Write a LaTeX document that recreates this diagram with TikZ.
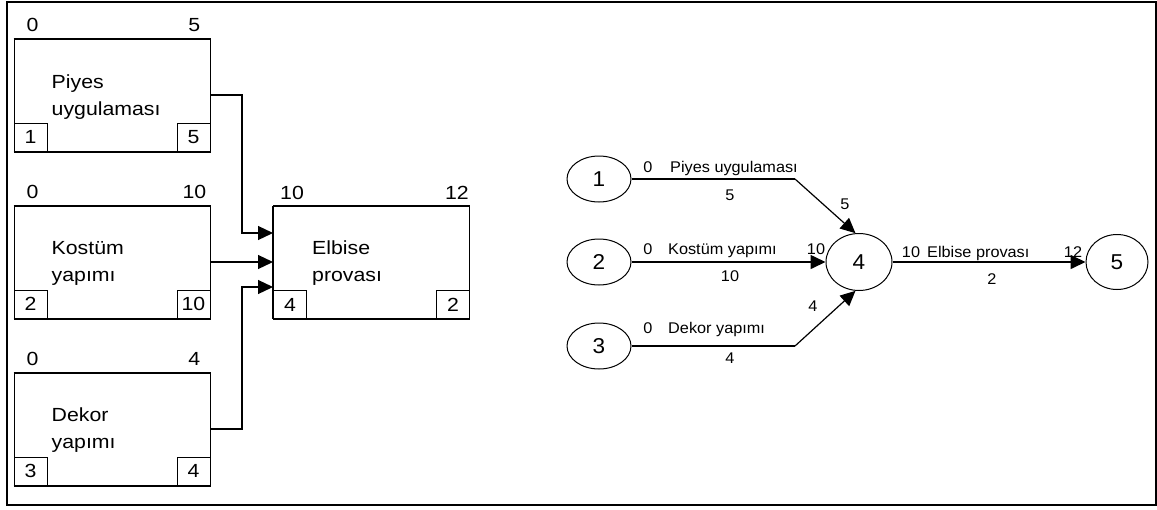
\documentclass[tikz,border=0pt]{standalone}
\usepackage{fontspec}
\usetikzlibrary{arrows.meta,shapes.geometric,calc}
\newfontfamily\boxfont[FakeStretch=1.12]{Liberation Sans}
\newfontfamily\netfont[FakeStretch=1.05]{Liberation Sans}
\begin{document}
\begin{tikzpicture}[x=1pt,y=-1pt,
  act/.style={draw, line width=1pt, minimum width=196pt, minimum height=112pt, inner sep=0pt},
  cell/.style={draw, line width=1pt, minimum width=33pt, minimum height=28pt, inner sep=0pt,
    font=\boxfont\fontsize{19}{22}\selectfont},
  num/.style={inner sep=0pt, font=\boxfont\fontsize{19}{22}\selectfont},
  actname/.style={inner sep=0pt, align=left, font=\boxfont\fontsize{19}{27}\selectfont},
  ev/.style={ellipse, draw, line width=1pt, inner sep=0pt, minimum width=64pt, minimum height=46pt,
    font=\netfont\fontsize{21.5}{24}\selectfont},
  lab/.style={inner sep=0pt, font=\netfont\fontsize{15.5}{18}\selectfont},
  headtip/.style={-{Triangle[length=15pt,width=14pt]}},
  linkline/.style={line width=1.2pt},
  thickedge/.style={line width=2pt},
  arcline/.style={line width=1.6pt}
]
\useasboundingbox (0,0) rectangle (1157,509);
\draw[line width=2pt] (7,2) rectangle (1156,505);

% ---------- activity-on-node boxes ----------
\node[act] (b1) at (112,95) {};
\node[act] (b2) at (112,262) {};
\node[act] (b3) at (112,429) {};
\node[act] (b4) at (371.5,262.5) {};
\foreach \b in {b1,b2,b3,b4}{
  \draw[thickedge] (\b.north west) -- (\b.north east);
  \draw[thickedge] (\b.south west) -- (\b.south east);
}
\draw[thickedge] (b4.north west) -- (b4.south west);

% corner cells
\node[cell, anchor=south west] (c1l) at (b1.south west) {1};
\node[cell, anchor=south east] (c1r) at (b1.south east) {5};
\node[cell, anchor=south west] (c2l) at (b2.south west) {2};
\node[cell, anchor=south east] (c2r) at (b2.south east) {10};
\node[cell, anchor=south west] (c3l) at (b3.south west) {3};
\node[cell, anchor=south east] (c3r) at (b3.south east) {4};
\node[cell, anchor=south west] (c4l) at (b4.south west) {4};
\node[cell, anchor=south east] (c4r) at (b4.south east) {2};

% start and finish times above each box
\node[num, anchor=base west] (s1) at ($(b1.north west)+(13,-7)$) {0};
\node[num, anchor=base east] (f1) at ($(b1.north east)+(-10,-7)$) {5};
\node[num, anchor=base west] (s2) at ($(b2.north west)+(13,-7)$) {0};
\node[num, anchor=base east] (f2) at ($(b2.north east)+(-4,-7)$) {10};
\node[num, anchor=base west] (s3) at ($(b3.north west)+(13,-7)$) {0};
\node[num, anchor=base east] (f3) at ($(b3.north east)+(-10,-7)$) {4};
\node[num, anchor=base west] (s4) at ($(b4.north west)+(7,-7)$) {10};
\node[num, anchor=base east] (f4) at ($(b4.north east)+(-1,-7)$) {12};

% activity names
\node[actname, anchor=west] (n1) at ($(b1.west)+(38,2)$) {Piyes\\uygulaması};
\node[actname, anchor=west] (n2) at ($(b2.west)+(38,1)$) {Kostüm\\yapımı};
\node[actname, anchor=west] (n3) at ($(b3.west)+(38,1)$) {Dekor\\yapımı};
\node[actname, anchor=west] (n4) at ($(b4.west)+(39,1)$) {Elbise\\provası};

% precedence links
\coordinate (j1) at (242,95);
\coordinate (j3) at (242,429);
\draw[linkline, headtip] (b1.east) -- (j1) |- ($(b4.west)+(0,-29.5)$);
\draw[linkline, headtip] (b2.east) -- (b4.west |- b2.east);
\draw[linkline, headtip] (b3.east) -- (j3) |- ($(b4.west)+(0,24.5)$);

% ---------- activity-on-arrow network ----------
\node[ev] (e1) at (599,179) {1};
\node[ev] (e2) at (599,262) {2};
\node[ev] (e3) at (599,346) {3};
\node[ev, minimum width=66pt, minimum height=57pt] (e4) at (859,262) {4};
\node[ev, minimum width=62pt, minimum height=55pt] (e5) at (1117,262) {5};

\coordinate (k1) at (795,179);
\coordinate (k3) at (795,346);
\draw[arcline] (e1.east) -- (k1);
\draw[linkline, headtip] (k1) -- (e4.97);
\draw[arcline, headtip] (e2.east) -- (e4.west);
\draw[arcline] (e3.east) -- (k3);
\draw[linkline, headtip] (k3) -- (e4.263);
\draw[arcline, headtip] (e4.east) -- (e5.west);

% arrow labels
\node[lab, anchor=base] (a1s) at (648,172) {0};
\node[lab, anchor=base west] (a1n) at (670,172) {Piyes uygulaması};
\node[lab, anchor=base] (a1d) at (730,200) {5};
\node[lab, anchor=base] (a1f) at (845,209) {5};

\node[lab, anchor=base] (a2s) at (648,254) {0};
\node[lab, anchor=base west] (a2n) at (668,254) {Kostüm yapımı};
\node[lab, anchor=base] (a2f) at (816,254) {10};
\node[lab, anchor=base] (a2d) at (730,281) {10};

\node[lab, anchor=base] (a3s) at (648,333) {0};
\node[lab, anchor=base west] (a3n) at (668,333) {Dekor yapımı};
\node[lab, anchor=base] (a3d) at (730,363) {4};
\node[lab, anchor=base] (a3f) at (813,311) {4};

\node[lab, anchor=base] (a4s) at (911,257) {10};
\node[lab, anchor=base west] (a4n) at (927,257) {Elbise provası};
\node[lab, anchor=base] (a4f) at (1073,257) {12};
\node[lab, anchor=base] (a4d) at (992,284) {2};
\end{tikzpicture}
\end{document}
